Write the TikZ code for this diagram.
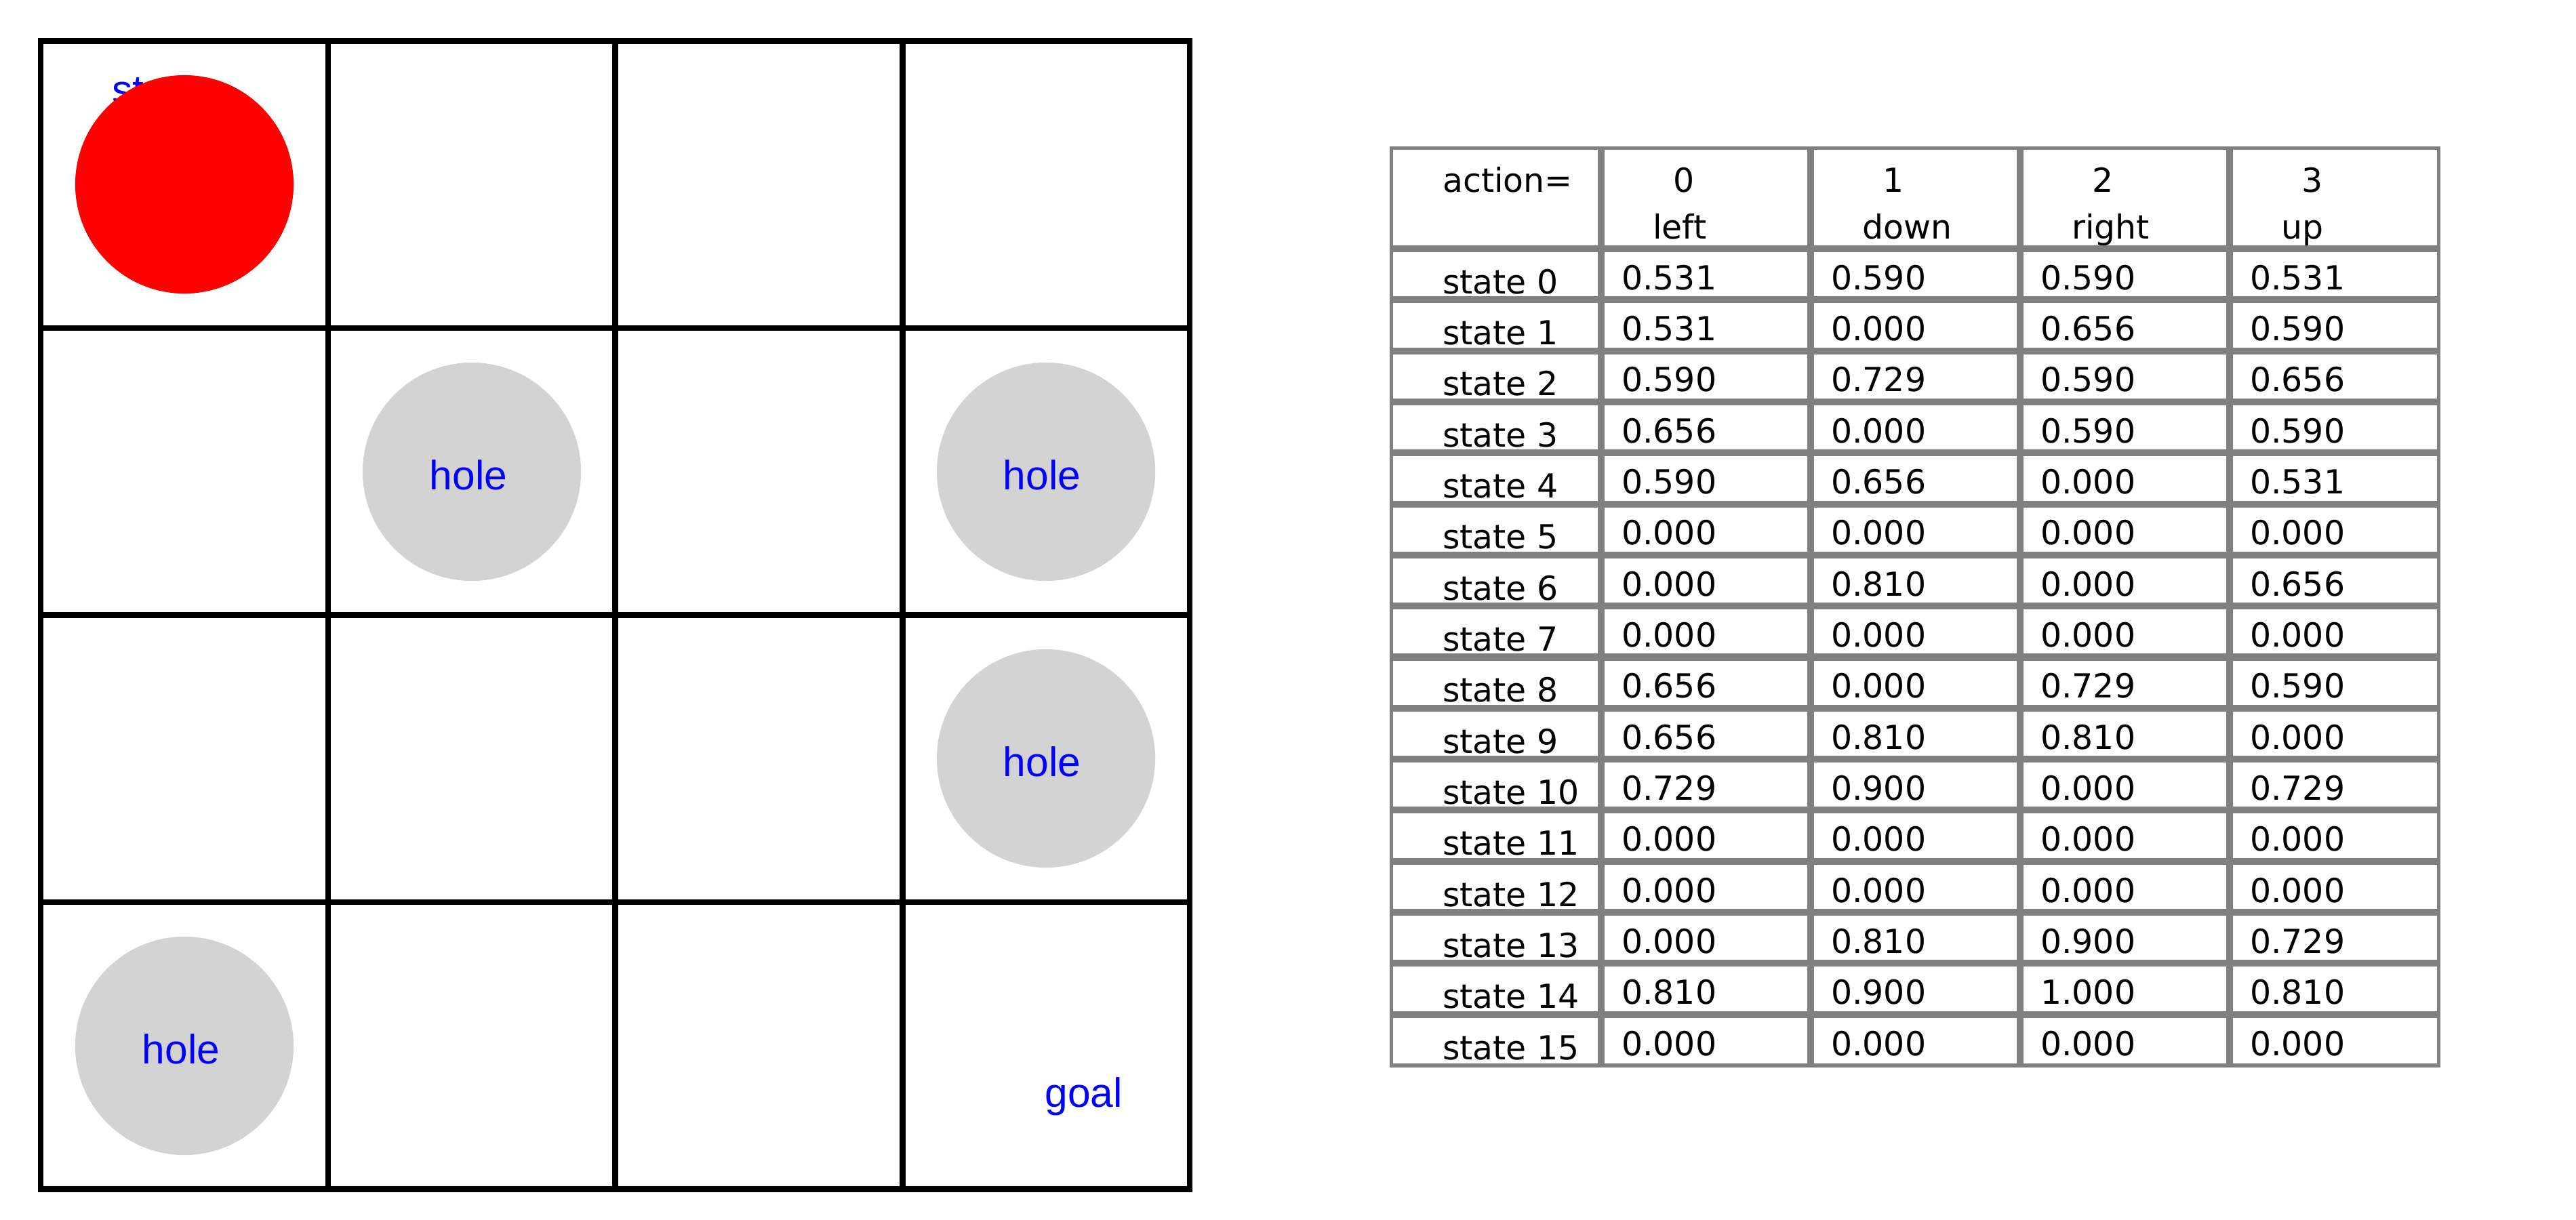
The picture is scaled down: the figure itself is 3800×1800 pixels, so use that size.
\documentclass[tikz,border=0pt]{standalone}
\usepackage{fontspec}
\setmainfont{DejaVu Sans}
\newfontfamily\gridfont{Liberation Sans}
\newfontfamily\tabfont{DejaVu Sans}
\definecolor{holegray}{RGB}{211,211,211}
\definecolor{labblue}{RGB}{0,0,255}
\definecolor{tabgray}{RGB}{128,128,128}
\definecolor{agentred}{RGB}{255,0,0}
\begin{document}
\begin{tikzpicture}[x=0.01cm,y=-0.01cm,
  gridline/.style={line width=2.42pt, draw=black},
  tabouter/.style={line width=1.45pt, draw=tabgray},
  tabinner/.style={line width=2.85pt, draw=tabgray},
  agent/.style={circle, fill=agentred, draw=none, minimum size=3.22cm, inner sep=0pt},
  hole/.style={circle, fill=holegray, draw=none, minimum size=3.22cm, inner sep=0pt},
  gridlbl/.style={font=\gridfont\fontsize{17.2pt}{20pt}\selectfont, text=labblue, inner sep=0pt},
  tabtxt/.style={font=\tabfont\fontsize{13.9pt}{16pt}\selectfont, text=black, inner sep=0pt, anchor=base west}
]
\useasboundingbox (0,0) rectangle (3800,1800);

% ---------- grid world ----------
\foreach \i in {1,2,3}{
  \draw[gridline] (60+423.75*\i,60.5) -- (60+423.75*\i,1754.5);
  \draw[gridline] (60,60.5+423.5*\i) -- (1755,60.5+423.5*\i);
}
\draw[gridline] (60,60.5) rectangle (1755,1754.5);

% start label (partly hidden by the agent)
\node[gridlbl, anchor=base west] (start) at (165,153) {start};
\node[agent] (agentdot) at (272,272) {};

% holes
\node[hole] (hole5) at (696,696) {};
\node[hole] (hole7) at (1543,696) {};
\node[hole] (hole11) at (1543,1119) {};
\node[hole] (hole12) at (272,1543) {};
\node[gridlbl, anchor=base] (hl5) at (691,722) {hole};
\node[gridlbl, anchor=base] (hl7) at (1537,722) {hole};
\node[gridlbl, anchor=base] (hl11) at (1537,1145) {hole};
\node[gridlbl, anchor=base] (hl12) at (267,1569) {hole};
\node[gridlbl, anchor=base west] (goal) at (1541,1633) {goal};

% ---------- Q table ----------
\foreach \c in {1,2,3,4}{
  \draw[tabinner] (2052.5+309*\c,218.5) -- (2052.5+309*\c,1572);
}
\foreach \r in {0,...,15}{
  \draw[tabinner] (2052.5,367+75.3125*\r) -- (3597.5,367+75.3125*\r);
}
\draw[tabouter] (2052.5,218.5) rectangle (3597.5,1572);

% header
\node[tabtxt] (hdr) at (2127.5,283) {action=};
\foreach \c/\num/\name in {1/0/left,2/1/down,3/2/right,4/3/up}{
  \node[tabtxt] (hnum\c) at (2052.5+309*\c+106.5,283) {\num};
  \node[tabtxt] (hname\c) at (2052.5+309*\c+76,352) {\name};
}

% rows
\foreach \r/\va/\vb/\vc/\vd in {
  0/0.531/0.590/0.590/0.531,
  1/0.531/0.000/0.656/0.590,
  2/0.590/0.729/0.590/0.656,
  3/0.656/0.000/0.590/0.590,
  4/0.590/0.656/0.000/0.531,
  5/0.000/0.000/0.000/0.000,
  6/0.000/0.810/0.000/0.656,
  7/0.000/0.000/0.000/0.000,
  8/0.656/0.000/0.729/0.590,
  9/0.656/0.810/0.810/0.000,
  10/0.729/0.900/0.000/0.729,
  11/0.000/0.000/0.000/0.000,
  12/0.000/0.000/0.000/0.000,
  13/0.000/0.810/0.900/0.729,
  14/0.810/0.900/1.000/0.810,
  15/0.000/0.000/0.000/0.000}{
  \pgfmathsetmacro{\yb}{367+75.3125*(\r+1)}
  \node[tabtxt] (lab\r) at (2127.5,\yb-9) {state \r};
  \node[tabtxt] (qa\r) at (2361.5+30,\yb-15) {\va};
  \node[tabtxt] (qb\r) at (2670.5+30,\yb-15) {\vb};
  \node[tabtxt] (qc\r) at (2979.5+30,\yb-15) {\vc};
  \node[tabtxt] (qd\r) at (3288.5+30,\yb-15) {\vd};
}
\end{tikzpicture}
\end{document}
